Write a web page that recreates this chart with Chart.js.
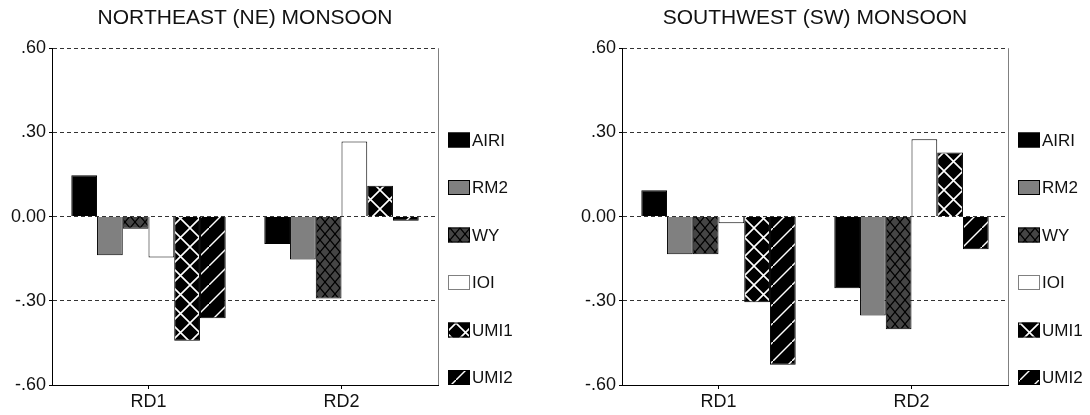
<!DOCTYPE html>
<html>
<head>
<meta charset="utf-8">
<script src="https://cdn.jsdelivr.net/npm/chart.js@4.4.1/dist/chart.umd.min.js"></script>
<style>
    html, body { margin: 0; padding: 0; background: #fff; }
    #wrap { position: relative; width: 1090px; height: 415px; }
    canvas { position: absolute; top: 0; }
</style>
</head>
<body>
<div id="wrap">
    <canvas id="neChart" width="545" height="415" style="left:0"></canvas>
    <canvas id="swChart" width="545" height="415" style="left:545px"></canvas>
</div>
<script>
// Categories, series and axis labels
const categories = ['RD1', 'RD2'];
const seriesNames = ['AIRI', 'RM2', 'WY', 'IOI', 'UMI1', 'UMI2'];
const yTickValues = [-0.6, -0.3, 0, 0.3, 0.6];
const yTickLabels = ['-.60', '-.30', '0.00', '.30', '.60'];

// Northeast (NE) monsoon
const neAIRI = [0.147, -0.098];
const neRM2 = [-0.138, -0.153];
const neWY = [-0.043, -0.292];
const neIOI = [-0.146, 0.268];
const neUMI1 = [-0.442, 0.110];
const neUMI2 = [-0.362, -0.015];

// Southwest (SW) monsoon
const swAIRI = [0.094, -0.255];
const swRM2 = [-0.134, -0.352];
const swWY = [-0.134, -0.401];
const swIOI = [-0.024, 0.276];
const swUMI1 = [-0.305, 0.228];
const swUMI2 = [-0.528, -0.116];

const FONT = '"Liberation Sans", Arial, sans-serif';
Chart.defaults.font.family = FONT;
Chart.defaults.color = '#000';

/**
 * Tao mau to (pattern) cho cac cot
 */
function makePattern(kind) {
    const c = document.createElement('canvas');
    const ctx = c.getContext('2d');
    if (kind === 'wy') {
        c.width = 10; c.height = 12;
        ctx.fillStyle = '#454545';
        ctx.fillRect(0, 0, 10, 12);
        ctx.strokeStyle = '#000';
        ctx.lineWidth = 1.2;
        ctx.beginPath();
        ctx.moveTo(0, 0); ctx.lineTo(10, 12);
        ctx.moveTo(10, 0); ctx.lineTo(0, 12);
        ctx.stroke();
        ctx.fillStyle = '#000';
        ctx.fillRect(4, 5, 2, 2);
    } else if (kind === 'umi1') {
        c.width = 19; c.height = 19;
        ctx.fillStyle = '#000';
        ctx.fillRect(0, 0, 19, 19);
        ctx.strokeStyle = '#fff';
        ctx.lineWidth = 1.6;
        ctx.beginPath();
        ctx.moveTo(0, 0); ctx.lineTo(19, 19);
        ctx.moveTo(19, 0); ctx.lineTo(0, 19);
        ctx.stroke();
    } else {
        c.width = 19; c.height = 19;
        ctx.fillStyle = '#000';
        ctx.fillRect(0, 0, 19, 19);
        ctx.strokeStyle = '#fff';
        ctx.lineWidth = 1.4;
        ctx.beginPath();
        ctx.moveTo(-2, 21); ctx.lineTo(21, -2);
        ctx.stroke();
    }
    return c.getContext('2d').createPattern(c, 'repeat');
}

const fills = {
    AIRI: '#000',
    RM2: '#808080',
    WY: makePattern('wy'),
    IOI: '#fff',
    UMI1: makePattern('umi1'),
    UMI2: makePattern('umi2')
};

/**
 * Chu giai ben phai va khung phai cua vung ve
 */
const sideLegend = {
    id: 'sideLegend',
    afterDraw(chart) {
        const { ctx, chartArea } = chart;
        ctx.save();
        ctx.strokeStyle = '#808080';
        ctx.lineWidth = 1;
        ctx.beginPath();
        ctx.moveTo(chartArea.right + 0.5, chartArea.top);
        ctx.lineTo(chartArea.right + 0.5, chartArea.bottom);
        ctx.stroke();

        ctx.font = '17px ' + FONT;
        ctx.textBaseline = 'middle';
        chart.data.datasets.forEach(function(ds, i) {
            const x = chartArea.right + 10;
            const y = 140 + i * 47.5;
            ctx.fillStyle = ds.backgroundColor;
            ctx.fillRect(x, y - 7.5, 22, 15);
            ctx.strokeStyle = ds.label === 'IOI' ? '#808080' : '#000';
            ctx.strokeRect(x + 0.5, y - 7, 21, 14);
            ctx.fillStyle = '#111';
            ctx.fillText(ds.label, x + 24, y + 1);
        });
        ctx.restore();
    }
};

function makeChart(id, title, values, axisWidth, rightPad) {
    const ctx = document.getElementById(id).getContext('2d');
    return new Chart(ctx, {
        type: 'bar',
        data: {
            labels: categories,
            datasets: seriesNames.map(function(name, i) {
                return {
                    label: name,
                    data: values[i],
                    backgroundColor: fills[name],
                    borderColor: '#000',
                    borderWidth: 1,
                    categoryPercentage: 0.8,
                    barPercentage: 1
                };
            })
        },
        options: {
            responsive: false,
            animation: false,
            devicePixelRatio: 1,
            layout: { padding: { left: 0, right: rightPad, top: 0, bottom: 0 } },
            scales: {
                x: {
                    afterFit: function(scale) { scale.height = 30; },
                    grid: {
                        offset: false,
                        drawOnChartArea: false,
                        tickLength: 4,
                        color: '#000'
                    },
                    border: { color: '#000', width: 1 },
                    ticks: { font: { size: 18 }, padding: 2, color: '#111' }
                },
                y: {
                    min: -0.6,
                    max: 0.6,
                    afterFit: function(scale) { scale.width = axisWidth; },
                    afterBuildTicks: function(scale) {
                        scale.ticks = yTickValues.map(function(v) { return { value: v }; });
                    },
                    grid: {
                        color: '#333',
                        tickLength: 3,
                        tickColor: '#000',
                        borderDash: [4, 3]
                    },
                    border: { color: '#000', width: 1, dash: [4, 3] },
                    ticks: {
                        font: { size: 18 },
                        padding: 3,
                        color: '#111',
                        callback: function(value, index) { return yTickLabels[index]; }
                    }
                }
            },
            plugins: {
                legend: { display: false },
                tooltip: { enabled: false },
                title: {
                    display: true,
                    text: title,
                    fullSize: false,
                    color: '#111',
                    font: { size: 21, weight: 'normal' },
                    padding: { top: 6, bottom: 17 }
                }
            }
        },
        plugins: [sideLegend]
    });
}

makeChart('neChart', 'NORTHEAST (NE) MONSOON',
    [neAIRI, neRM2, neWY, neIOI, neUMI1, neUMI2], 52, 107);
makeChart('swChart', 'SOUTHWEST (SW) MONSOON',
    [swAIRI, swRM2, swWY, swIOI, swUMI1, swUMI2], 77, 82);
</script>
</body>
</html>
